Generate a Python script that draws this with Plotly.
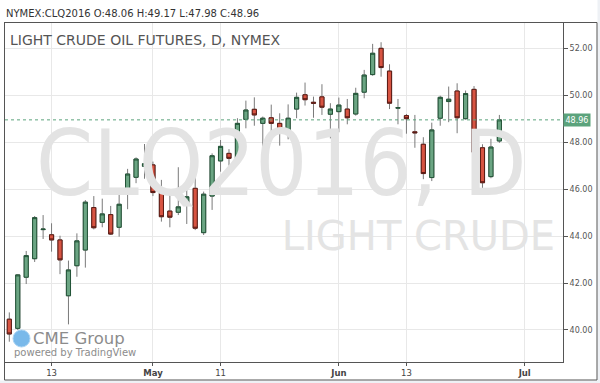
import plotly.graph_objects as go

# ---------------- data ----------------
dates = [
    "2016-04-06", "2016-04-07", "2016-04-08", "2016-04-11", "2016-04-12", "2016-04-13",
    "2016-04-14", "2016-04-15", "2016-04-18", "2016-04-19", "2016-04-20", "2016-04-21",
    "2016-04-22", "2016-04-25", "2016-04-26", "2016-04-27", "2016-04-28", "2016-04-29",
    "2016-05-02", "2016-05-03", "2016-05-04", "2016-05-05", "2016-05-06", "2016-05-09",
    "2016-05-10", "2016-05-11", "2016-05-12", "2016-05-13", "2016-05-16", "2016-05-17",
    "2016-05-18", "2016-05-19", "2016-05-20", "2016-05-23", "2016-05-24", "2016-05-25",
    "2016-05-26", "2016-05-27", "2016-05-31", "2016-06-01", "2016-06-02", "2016-06-03",
    "2016-06-06", "2016-06-07", "2016-06-08", "2016-06-09", "2016-06-10", "2016-06-13",
    "2016-06-14", "2016-06-15", "2016-06-16", "2016-06-17", "2016-06-20", "2016-06-21",
    "2016-06-22", "2016-06-23", "2016-06-24", "2016-06-27", "2016-06-28",
]
future_dates = ["2016-06-29", "2016-06-30", "2016-07-01"]

opens = [40.46, 40.07, 42.25, 43.04, 44.28, 44.06, 43.84, 41.46, 42.74, 43.41,
         45.22, 44.59, 44.92, 44.38, 45.83, 46.51, 46.98, 47.04, 45.97, 45.07,
         45.02, 45.42, 46.04, 44.15, 45.71, 47.21, 47.53, 47.32, 48.98, 49.41,
         48.81, 49.05, 48.81, 48.50, 49.42, 50.03, 49.71, 49.94, 49.20, 49.31,
         49.42, 49.21, 50.14, 50.89, 52.01, 51.04, 49.46, 49.14, 48.45, 47.92,
         46.50, 49.03, 49.74, 50.19, 49.01, 50.26, 47.77, 46.54, 48.06]
highs = [40.75, 42.37, 43.37, 44.86, 44.90, 44.55, 44.02, 42.96, 44.12, 45.54,
         45.71, 45.60, 45.29, 46.04, 46.87, 47.36, 47.93, 47.18, 46.40, 45.97,
         46.94, 46.30, 46.78, 45.90, 47.53, 48.10, 47.71, 49.03, 49.78, 49.92,
         49.10, 49.61, 49.24, 49.62, 50.12, 50.55, 49.95, 50.48, 49.67, 49.91,
         49.85, 50.33, 51.09, 52.20, 52.27, 51.33, 49.85, 49.21, 49.17, 48.22,
         48.84, 49.99, 50.38, 50.52, 50.21, 50.40, 47.92, 48.15, 49.17]
lows = [39.50, 40.00, 41.96, 42.90, 43.88, 43.34, 42.38, 40.24, 42.27, 42.66,
        44.29, 44.38, 44.05, 43.98, 45.15, 46.26, 46.45, 45.71, 44.62, 44.38,
        44.90, 44.52, 44.26, 44.05, 45.12, 46.75, 47.01, 47.25, 48.60, 48.71,
        47.65, 48.35, 47.86, 48.13, 49.03, 49.57, 49.05, 49.17, 48.17, 48.43,
        48.77, 49.14, 49.88, 50.84, 50.80, 49.42, 48.77, 48.37, 47.77, 46.43,
        46.35, 48.71, 48.86, 48.39, 48.97, 46.67, 45.81, 46.47, 47.98]
closes = [39.83, 42.35, 43.17, 44.79, 44.30, 43.84, 42.99, 42.56, 43.80, 45.45,
          44.36, 44.95, 44.09, 45.36, 46.65, 47.29, 47.09, 45.86, 44.83, 44.81,
          45.25, 45.68, 44.34, 45.79, 47.43, 47.83, 47.32, 48.81, 49.38, 49.17,
          49.03, 48.81, 48.50, 49.03, 49.92, 49.82, 49.67, 49.50, 49.42, 49.59,
          49.05, 50.09, 50.87, 51.80, 51.19, 49.67, 49.48, 49.01, 48.41, 46.67,
          48.53, 49.92, 49.84, 49.05, 50.08, 47.58, 46.28, 47.80, 48.96]

tick_dates = ["2016-04-13", "2016-04-29", "2016-05-11", "2016-06-01", "2016-06-13", "2016-07-01"]
tick_text = ["13", "<b>May</b>", "11", "<b>Jun</b>", "13", "<b>Jul</b>"]
y_ticks = [40, 42, 44, 46, 48, 50, 52]

header = "NYMEX:CLQ2016 O:48.06 H:49.17 L:47.98 C:48.96"
title = "LIGHT CRUDE OIL FUTURES, D, NYMEX"
watermark = "CLQ2016, D"
watermark2 = "LIGHT CRUDE"
last_price = closes[-1]

# ---------------- derived ----------------
calendar = dates + future_dates
x = [calendar.index(d) for d in dates]
tick_pos = [calendar.index(d) for d in tick_dates]
body_hi = [max(o, c) for o, c in zip(opens, closes)]
body_lo = [min(o, c) for o, c in zip(opens, closes)]

UP_FILL, UP_LINE = "#6ba583", "#225437"
DN_FILL, DN_LINE = "#d75442", "#5b1a13"
WICK = "#7a7a7a"
FONT = "DejaVu Sans"
FONT_COND = "DejaVu Sans Condensed, DejaVu Sans"

fig = go.Figure()

# watermark (below candles)
fig.add_trace(go.Scatter(
    x=[32.2], y=[46.72], mode="text", text=[watermark],
    textfont=dict(family=FONT_COND, size=91, color="#e3e3e3"),
    hoverinfo="skip", showlegend=False, cliponaxis=False))
fig.add_trace(go.Scatter(
    x=[64.6], y=[43.84], mode="text", text=[watermark2],
    textposition="middle left",
    textfont=dict(family=FONT, size=40, color="#e4e4e4"),
    hoverinfo="skip", showlegend=False, cliponaxis=False))

# wicks
fig.add_trace(go.Candlestick(
    x=x, open=opens, high=highs, low=lows, close=closes,
    increasing=dict(line=dict(color=WICK, width=1), fillcolor=WICK),
    decreasing=dict(line=dict(color=WICK, width=1), fillcolor=WICK),
    hoverinfo="skip", showlegend=False))
# bodies
fig.add_trace(go.Candlestick(
    x=x, open=opens, high=body_hi, low=body_lo, close=closes,
    increasing=dict(line=dict(color=UP_LINE, width=1), fillcolor=UP_FILL),
    decreasing=dict(line=dict(color=DN_LINE, width=1), fillcolor=DN_FILL),
    hoverinfo="skip", showlegend=False))

# ---------------- layout ----------------
W, H = 600, 383
ml, mr, mt, mb = 5, 37, 23, 21
pw, ph = W - ml - mr, H - mt - mb


def px_x(p):
    return (p - ml) / pw


def px_y(p):
    return (H - mb - p) / ph


fig.update_layout(
    width=W, height=H,
    margin=dict(l=ml, r=mr, t=mt, b=mb, pad=0),
    paper_bgcolor="white", plot_bgcolor="white",
    showlegend=False, boxgap=0.3,
    font=dict(family=FONT, color="#555555"),
    xaxis=dict(
        range=[-0.51, 65.53], rangeslider=dict(visible=False),
        tickmode="array", tickvals=tick_pos, ticktext=tick_text,
        tickfont=dict(family=FONT, size=8.5, color="#444444"),
        showgrid=True, gridcolor="#e8e8e8", gridwidth=1,
        showline=True, linecolor="#555555", linewidth=1, mirror=True,
        ticks="outside", ticklen=3, tickcolor="#555555",
        zeroline=False, fixedrange=True,
    ),
    yaxis=dict(
        range=[38.635, 53.09], side="right",
        tickmode="array", tickvals=y_ticks, tickformat=".2f",
        tickfont=dict(family=FONT, size=8, color="#555555"),
        showgrid=True, gridcolor="#e8e8e8", gridwidth=1,
        showline=True, linecolor="#555555", linewidth=1, mirror=True,
        ticks="outside", ticklen=4, tickcolor="#555555",
        zeroline=False, fixedrange=True,
    ),
)

shapes = [
    # outer strips
    dict(type="rect", xref="paper", yref="paper", x0=px_x(597.5), x1=px_x(605),
         y0=px_y(390), y1=px_y(-5), fillcolor="#eef1f5", line=dict(width=0), layer="below"),
    dict(type="rect", xref="paper", yref="paper", x0=px_x(-5), x1=px_x(605),
         y0=px_y(390), y1=px_y(380.5), fillcolor="#eef1f5", line=dict(width=0), layer="below"),
    # outer frame
    dict(type="rect", xref="paper", yref="paper", x0=px_x(4.5), x1=px_x(597),
         y0=px_y(380), y1=px_y(22.5), line=dict(color="#555555", width=1),
         fillcolor="rgba(0,0,0,0)", layer="above"),
    # last price line
    dict(type="line", xref="paper", yref="y", x0=0, x1=1, y0=last_price, y1=last_price,
         line=dict(color="#5ba37c", width=1, dash="dot"), layer="above"),
    # CME globe
    dict(type="circle", xref="paper", yref="paper", x0=px_x(13), x1=px_x(30),
         y0=px_y(347), y1=px_y(330), fillcolor="#79b9ea", line=dict(color="#a9d3f3", width=1),
         layer="above"),
]
fig.update_layout(shapes=shapes)

annotations = [
    dict(text=header, xref="paper", yref="paper", x=px_x(4), y=px_y(13),
         xanchor="left", yanchor="middle", showarrow=False,
         font=dict(family=FONT, size=10, color="#333333")),
    dict(text=title, xref="paper", yref="paper", x=px_x(8), y=px_y(40),
         xanchor="left", yanchor="middle", showarrow=False,
         font=dict(family=FONT, size=14, color="#555555")),
    dict(text="CME Group", xref="paper", yref="paper", x=px_x(31), y=px_y(338),
         xanchor="left", yanchor="middle", showarrow=False,
         font=dict(family=FONT, size=16.5, color="#8c8c8c")),
    dict(text="powered by TradingView", xref="paper", yref="paper", x=px_x(12), y=px_y(352),
         xanchor="left", yanchor="middle", showarrow=False,
         font=dict(family=FONT, size=10, color="#8c8c8c")),
    dict(text=f"{last_price:.2f}", xref="paper", yref="y", x=1.0, y=last_price,
         xanchor="left", yanchor="middle", showarrow=False,
         bgcolor="#5ba37c", borderpad=1.5,
         font=dict(family=FONT, size=8, color="white")),
]
fig.update_layout(annotations=annotations)

fig.write_html("out.html")
